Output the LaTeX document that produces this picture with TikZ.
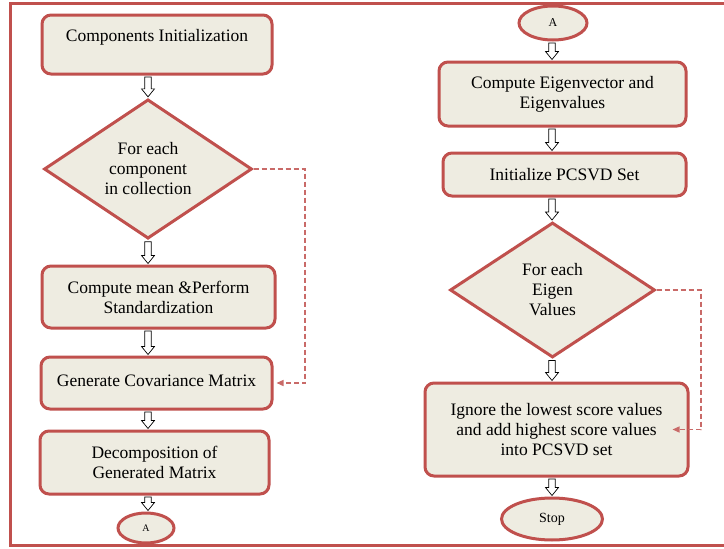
\documentclass[tikz,border=0pt]{standalone}
\usepackage{fontspec}
\setmainfont{Liberation Serif}
\newfontfamily\diagfont{Liberation Serif}
\usetikzlibrary{shapes.geometric,arrows.meta,calc}
\definecolor{bred}{HTML}{C0504D}
\definecolor{bfill}{HTML}{EEECE1}
% #1 column node (x position), #2 start anchor, #3 end anchor
\newcommand{\hollowarrow}[3]{%
  \path let \p0=(#1), \p1=(#2), \p2=(#3) in
  [draw=black, fill=white, line width=0.7pt, line join=miter]
  (\x0-3.2pt,\y1-1.5pt) -- (\x0-3.2pt,\y2+9pt) -- (\x0-6.5pt,\y2+9pt) -- (\x0,\y2+1pt)
  -- (\x0+6.5pt,\y2+9pt) -- (\x0+3.2pt,\y2+9pt) -- (\x0+3.2pt,\y1-1.5pt) -- cycle;}
\begin{document}
\begin{tikzpicture}[x=1pt,y=-1pt,
  every node/.style={font=\diagfont\fontsize{17.5}{20}\selectfont, align=center, inner sep=0pt},
  procbox/.style={draw=bred, fill=bfill, line width=3pt, rounded corners=9pt},
  decision/.style={draw=bred, fill=bfill, line width=3pt, diamond, line join=miter},
  terminal/.style={draw=bred, fill=bfill, line width=3pt, ellipse},
  loopline/.style={draw=bred!85, line width=1.3pt, dash pattern=on 5pt off 3pt,
     -{Triangle[length=7pt,width=6pt]}}
]
\useasboundingbox (0,0) rectangle (724,549);
\fill[white] (0,0) rectangle (724,549);
\draw[bred, line width=3pt] (10,3) rectangle (760,545);

% left column
\node[procbox, minimum width=230pt, minimum height=59pt] (ci) at (157,44.5) {};
\node (cit) at (157,37) {Components Initialization};
\node[decision, minimum width=208pt, minimum height=138pt] (d1) at (148,169)
  {For each\\component\\in collection};
\node[procbox, minimum width=233pt, minimum height=62pt] (cm) at (158.5,297)
  {Compute mean \&Perform\\Standardization};
\node[procbox, minimum width=231pt, minimum height=52pt] (gc) at (156.5,383)
  {\raisebox{4pt}{Generate Covariance Matrix}};
\node[procbox, minimum width=229pt, minimum height=63pt] (dg) at (154.5,462.5)
  {Decomposition of\\Generated Matrix};
\node[terminal, minimum width=56pt, minimum height=30pt, font=\diagfont\fontsize{10}{12}\selectfont] (a1) at (146,528) {A};

% right column
\node[terminal, minimum width=68pt, minimum height=34pt, font=\diagfont\fontsize{12}{14}\selectfont] (a2) at (553,23) {A};
\node[procbox, minimum width=247pt, minimum height=64pt] (ev) at (562.5,94)
  {Compute Eigenvector and\\Eigenvalues};
\node[procbox, minimum width=243pt, minimum height=43pt] (ip) at (564.5,174.5)
  {Initialize PCSVD Set};
\node[decision, minimum width=205pt, minimum height=135pt] (d2) at (552.5,290)
  {For each\\Eigen\\Values};
\node[procbox, minimum width=263pt, minimum height=93pt] (ig) at (556.5,429.5)
  {Ignore the lowest score values\\and add highest score values\\into PCSVD set};
\node[terminal, minimum width=101pt, minimum height=42pt, font=\diagfont\fontsize{14}{16}\selectfont] (st) at (552,519) {Stop};

% block arrows
\hollowarrow{d1}{ci.south}{d1.north}
\hollowarrow{d1}{d1.south}{cm.north}
\hollowarrow{d1}{cm.south}{gc.north}
\hollowarrow{d1}{gc.south}{dg.north}
\hollowarrow{d1}{dg.south}{a1.north}
\hollowarrow{st}{a2.south}{ev.north}
\hollowarrow{st}{ev.south}{ip.north}
\hollowarrow{st}{ip.south}{d2.north}
\hollowarrow{st}{d2.south}{ig.north}
\hollowarrow{st}{ig.south}{st.north}

% loop lines
\coordinate (k1) at (305,169);
\coordinate (k2) at (701,290);
\draw[loopline] (d1.east) -- (k1) |- ([xshift=3pt]gc.east);
\draw[loopline] (d2.east) -- (k2) |- ([xshift=-17pt]ig.east);
\end{tikzpicture}
\end{document}
